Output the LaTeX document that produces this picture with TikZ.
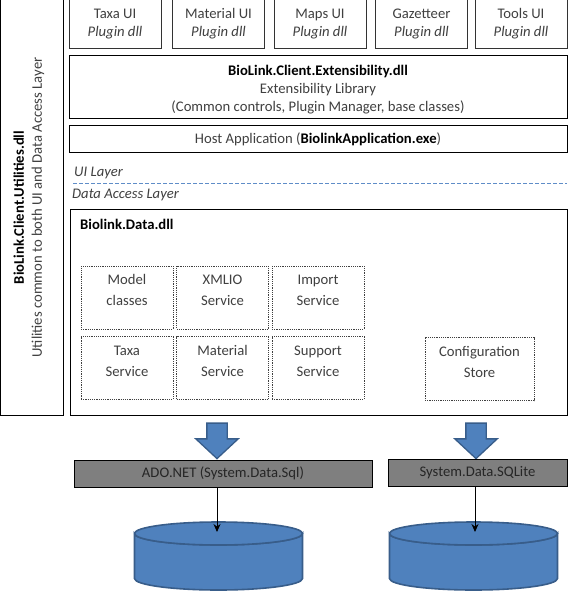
\documentclass[tikz,border=0pt]{standalone}
\usepackage{fontspec}
\setmainfont{Carlito}
\usetikzlibrary{shapes.geometric,shapes.arrows,arrows.meta}
\definecolor{txt}{HTML}{404040}
\definecolor{blk}{HTML}{4F81BD}
\definecolor{blkd}{HTML}{385D8A}
\definecolor{bar}{HTML}{7F7F7F}
\definecolor{dashc}{HTML}{5F8DC8}
\newcommand\plugtext[1]{\rule{0pt}{14pt}#1\\\textit{Plugin dll}\rule[-7pt]{0pt}{1pt}}
\tikzset{
  x=1pt,y=-1pt,
  basebox/.style={draw=black,line width=1pt,fill=white,inner sep=0pt,align=center,text=txt,
     font=\fontsize{14.67}{18}\selectfont},
  plugin/.style={basebox,draw=black!80,minimum width=92pt,minimum height=49pt},
  wide/.style={basebox,minimum width=498pt},
  svc/.style={basebox,draw=black!75,line width=0.8pt,dash pattern=on 1.2pt off 1pt,minimum width=92pt,minimum height=63pt,
     font=\fontsize{14.67}{21}\selectfont},
  barbox/.style={basebox,fill=bar,text=black!85,minimum height=27pt},
  bigarrow/.style={single arrow,draw=blkd,fill=blk,line width=1.3pt,shape border rotate=270,
     inner sep=9.5pt,minimum height=35.5pt,single arrow head extend=11pt,
     single arrow tip angle=94,single arrow head indent=0pt,anchor=tip},
  db/.style={draw=blkd,fill=blk,line width=1.6pt},
  link/.style={draw=black,line width=0.9pt,-{Stealth[length=8pt,width=7pt]}},
  lay/.style={inner sep=0pt,text=txt,font=\fontsize{14.67}{16}\selectfont\itshape,anchor=west},
}
\begin{document}
\begin{tikzpicture}
\path[use as bounding box,fill=white] (0,0) rectangle (570,593);
% left column
\node[basebox,minimum width=63pt,minimum height=415pt] (util) at (31.5,207.5) {};
\node[rotate=90,inner sep=0pt,align=center,text=txt,font=\fontsize{14.67}{18}\selectfont] (utilt) at (29,207.5)
  {\textcolor{black}{\textbf{BioLink.Client.Utilities.dll}}\\Utilities common to both UI and Data Access Layer};
% plugins
\node[plugin] (taxa) at (115,24.5) {\plugtext{Taxa UI}};
\node[plugin] (material) at (218.5,24.5) {\plugtext{Material UI}};
\node[plugin] (maps) at (320,24.5) {\plugtext{Maps UI}};
\node[plugin] (gaz) at (421.5,24.5) {\plugtext{Gazetteer}};
\node[plugin] (tools) at (521,24.5) {\plugtext{Tools UI}};
% wide boxes
\node[wide,minimum height=63pt] (ext) at (318,87) {\rule{0pt}{15pt}\textcolor{black}{\textbf{BioLink.Client.Extensibility.dll}}\\Extensibility Library\\(Common controls, Plugin Manager, base classes)};
\node[wide,minimum height=27pt] (host) at (318,139) {\raisebox{-2pt}{Host Application (\textcolor{black}{\textbf{BiolinkApplication.exe}})}};
% layers
\node[lay] (uil) at (74,172.5) {UI Layer};
\coordinate (dl) at (73,183);
\coordinate (dr) at (567,183);
\draw[dashc,line width=0.9pt,dash pattern=on 4pt off 2pt] (dl) -- (dr);
\node[lay] (dal) at (72,194.5) {Data Access Layer};
% data
\node[wide,minimum width=497pt,minimum height=205pt] (data) at (318.5,312.5) {};
\node[inner sep=0pt,anchor=west,font=\fontsize{14.67}{16}\selectfont\bfseries] (datat) at (80,224.5) {Biolink.Data.dll};
\node[svc] (model) at (127,297.5) {Model\\classes\\[-13pt]\strut};
\node[svc] (xml) at (222.5,297.5) {XMLIO\\Service\\[-13pt]\strut};
\node[svc] (import) at (318,297.5) {Import\\Service\\[-13pt]\strut};
\node[svc] (tsvc) at (127,368) {Taxa\\Service\\[-13pt]\strut};
\node[svc] (msvc) at (222.5,368) {Material\\Service\\[-13pt]\strut};
\node[svc] (ssvc) at (318,368) {Support\\Service\\[-13pt]\strut};
\node[svc,minimum width=109pt] (conf) at (479.5,369) {Configuration\\Store\\[-13pt]\strut};
% lower
\node[bigarrow] (a1) at (217,459.5) {};
\node[bigarrow] (a2) at (476,459.5) {};
\node[barbox,minimum width=298pt] (ado) at (223,473.5) {\raisebox{-3pt}{ADO.NET (System.Data.Sql)}};
\node[barbox,minimum width=179pt] (sqlite) at (477.5,472.5) {\raisebox{-3pt}{System.Data.SQLite}};
\draw[db] (134.5,533.5) arc[start angle=180,end angle=360,x radius=84,y radius=-11.5]
   -- (302.5,578.5) arc[start angle=0,end angle=-180,x radius=84,y radius=-11.5] -- cycle;
\draw[db] (134.5,533.5) arc[start angle=180,end angle=-180,x radius=84,y radius=-11.5];
\draw[db] (389.5,533.5) arc[start angle=180,end angle=360,x radius=84,y radius=-11.5]
   -- (557.5,578.5) arc[start angle=0,end angle=-180,x radius=84,y radius=-11.5] -- cycle;
\draw[db] (389.5,533.5) arc[start angle=180,end angle=-180,x radius=84,y radius=-11.5];
\coordinate (e1) at (217,532);
\coordinate (e2) at (475,532);
\draw[link] (ado.south -| e1) -- (e1);
\draw[link] (sqlite.south -| e2) -- (e2);
\end{tikzpicture}
\end{document}
